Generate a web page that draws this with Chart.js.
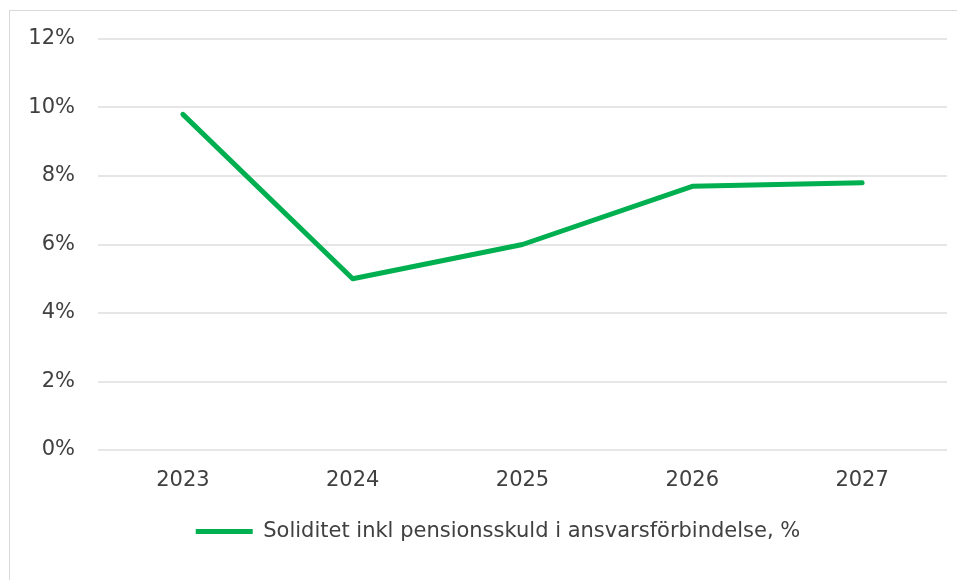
<!DOCTYPE html>
<html>
<head>
<meta charset="utf-8">
<script src="https://cdn.jsdelivr.net/npm/chart.js@4/dist/chart.umd.min.js"></script>
<style>
  html, body { margin: 0; padding: 0; background: #ffffff; }
  #wrap { width: 957px; height: 580px; position: relative; }
</style>
</head>
<body>
<div id="wrap"><canvas id="c" width="957" height="580"></canvas></div>
<script>
const categories = ['2023', '2024', '2025', '2026', '2027'];
const seriesName = 'Soliditet inkl pensionsskuld i ansvarsförbindelse, %';
const seriesValues = [9.8, 5.0, 6.0, 7.7, 7.8];
const yTicks = [0, 2, 4, 6, 8, 10, 12];

const FONT = 'DejaVu Sans, Verdana, sans-serif';
const TEXT = '#404040';

const frame = {
  id: 'frame',
  beforeDraw(chart) {
    const ctx = chart.ctx;
    ctx.save();
    ctx.fillStyle = '#ffffff';
    ctx.fillRect(0, 0, chart.width, chart.height);
    ctx.strokeStyle = '#d9d9d9';
    ctx.lineWidth = 1;
    ctx.strokeRect(9.5, 10.5, chart.width + 10, chart.height + 10);
    ctx.restore();
  },
  afterLayout(chart) {
    if (chart.legend) {
      chart.legend.left += 20;
      chart.legend.right += 20;
    }
  }
};

new Chart(document.getElementById('c'), {
  type: 'line',
  data: {
    labels: categories,
    datasets: [{
      label: seriesName,
      data: seriesValues,
      borderColor: '#00B050',
      backgroundColor: '#00B050',
      borderWidth: 5,
      borderCapStyle: 'round',
      borderJoinStyle: 'round',
      pointRadius: 0,
      pointHoverRadius: 0,
      pointStyle: 'line',
      tension: 0,
      fill: false
    }]
  },
  options: {
    responsive: false,
    animation: false,
    devicePixelRatio: 1,
    layout: { padding: { left: 9, right: 10, top: 39, bottom: 28 } },
    plugins: {
      tooltip: { enabled: false },
      legend: {
        position: 'bottom',
        labels: {
          usePointStyle: true,
          pointStyleWidth: 57,
          color: TEXT,
          font: { family: FONT, size: 21 },
          padding: 11
        }
      }
    },
    scales: {
      x: {
        offset: true,
        grid: { display: false, drawTicks: false },
        border: { display: false },
        ticks: { color: TEXT, font: { family: FONT, size: 21 }, padding: 18, maxRotation: 0 },
        afterFit(scale) { scale.height = 60; }
      },
      y: {
        min: 0,
        max: 12,
        afterBuildTicks(scale) { scale.ticks = yTicks.map(v => ({ value: v })); },
        grid: { color: '#e6e6e6', lineWidth: 2, drawTicks: false },
        border: { display: false },
        ticks: {
          color: TEXT,
          font: { family: FONT, size: 21 },
          padding: 23,
          callback: v => v + '%'
        },
        afterFit(scale) { scale.width = 89; }
      }
    }
  },
  plugins: [frame]
});
</script>
</body>
</html>
